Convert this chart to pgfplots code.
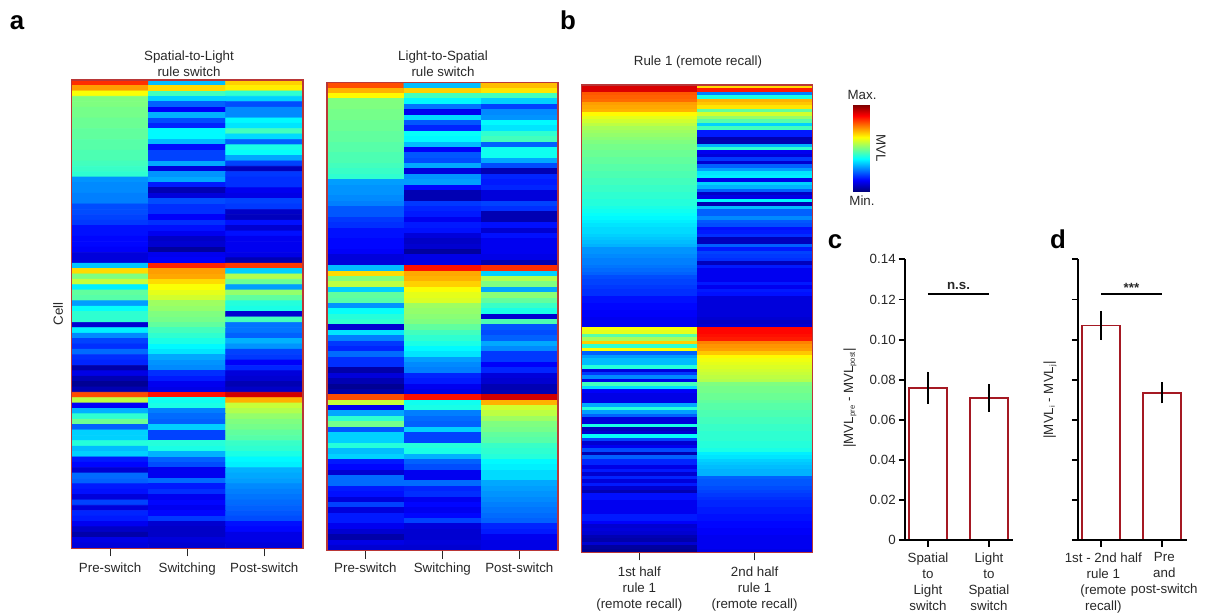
\documentclass[border=0pt]{standalone}
\usepackage{fontspec}
\setmainfont{Liberation Sans}
\usepackage{pgfplots}
\pgfplotsset{compat=1.18}
\definecolor{frame}{RGB}{185,55,55}
\definecolor{barred}{RGB}{165,25,35}
\definecolor{ink}{RGB}{40,40,40}
\newcommand{\lab}{\fontsize{8}{9.6}\selectfont\color{ink}}
\newcommand{\sub}[1]{\raisebox{-1.1pt}{\fontsize{4.6}{5}\selectfont #1}}
\pgfplotsset{
  hm/.style={scale only axis, anchor=south west, colormap/jet, point meta min=0, point meta max=1,
    xmin=-0.5, xmax=#1-0.5, xtick pos=bottom, ytick=\empty, tick align=outside,
    major tick length=4.8pt, xtick style={draw=ink,line width=0.6pt}, axis line style={draw=frame,line width=0.9pt},
    axis on top, xticklabel style={font=\lab,align=center,inner sep=0pt,yshift=-3.4pt}},
  bars/.style={scale only axis, anchor=south west, ymin=0, ymax=0.14, height=168.6pt,
    axis x line=bottom, axis y line=left, axis line style={-,line width=1.15pt,black}, tick align=outside,
    major tick length=3.9pt, tick style={black,line width=1.15pt}, xtick pos=bottom, ytick pos=left,
    ytick={0,0.02,0.04,0.06,0.08,0.10,0.12,0.14}, axis on top, clip=false,
    xticklabel style={font=\lab,align=center,inner sep=0pt,yshift=-3.2pt},
    yticklabel style={font=\lab,inner sep=1.5pt}},
  bar/.style={ybar, bar shift=0pt, bar width=22.4pt, draw=barred, fill=white, line width=1.1pt,
    error bars/.cd, y dir=both, y explicit, error mark=none, error bar style={black,line width=1.15pt}}
}
\begin{document}
\begin{tikzpicture}
\path[use as bounding box] (0,0) rectangle (723.6pt,-367.2pt);
% Panel a, left
\begin{axis}[hm=3, at={(42.9pt,-329pt)}, width=138.8pt, height=280.9pt, ymin=-86.5, ymax=0.5,
  xtick={0,1,2}, xticklabels={Pre-switch,Switching,Post-switch}]
\addplot[matrix plot*, mesh/ordering=y varies, mesh/rows=87, mesh/cols=3, point meta=explicit]
 table[row sep=\\, x expr={floor(\coordindex/87)}, y expr={-mod(\coordindex,87)}, meta=c] {c\\
.83\\.72\\.62\\.50\\.50\\.49\\.49\\.48\\.48\\.47\\.47\\.46\\.46\\.45\\.45\\.44\\.43\\.42\\.27\\.26\\.26\\.25\\.25\\.20\\.20\\.19\\.18\\.14\\.14\\.13\\.13\\.12\\.09\\.09\\
.32\\.66\\.50\\.57\\.36\\.47\\.46\\.28\\.38\\.42\\.42\\.08\\.36\\.26\\.19\\.17\\.23\\.17\\.16\\.04\\.10\\.05\\.02\\.05\\
.80\\.56\\.12\\.30\\.42\\.48\\.22\\.33\\.33\\.41\\.31\\.33\\.15\\.13\\.08\\.23\\.22\\.15\\.14\\.09\\.19\\.09\\.16\\.15\\.11\\.07\\.04\\.10\\.09\\
.31\\.66\\.44\\.33\\.22\\.12\\.30\\.20\\.16\\.37\\.37\\.31\\.14\\.19\\.19\\.29\\.09\\.27\\.29\\.15\\.05\\.09\\.20\\.17\\.17\\.12\\.17\\.14\\.11\\.07\\.08\\.03\\.11\\.12\\
.84\\.72\\.71\\.66\\.62\\.60\\.58\\.53\\.52\\.50\\.49\\.47\\.44\\.42\\.40\\.37\\.35\\.29\\.27\\.26\\.17\\.15\\.11\\.10\\
.86\\.39\\.40\\.25\\.23\\.22\\.33\\.19\\.19\\.41\\.40\\.30\\.22\\.20\\.11\\.11\\.23\\.15\\.17\\.11\\.13\\.11\\.13\\.18\\.08\\.07\\.07\\.09\\.08\\
.67\\.64\\.42\\.33\\.20\\.26\\.26\\.37\\.35\\.44\\.34\\.22\\.40\\.38\\.29\\.19\\.06\\.18\\.17\\.17\\.11\\.10\\.19\\.18\\.07\\.06\\.14\\.08\\.14\\.11\\.11\\.11\\.10\\.05\\
.82\\.33\\.55\\.48\\.28\\.52\\.47\\.41\\.40\\.08\\.44\\.24\\.24\\.22\\.30\\.27\\.19\\.18\\.12\\.16\\.09\\.08\\.05\\.07\\
.92\\.70\\.57\\.55\\.52\\.50\\.49\\.47\\.46\\.43\\.42\\.40\\.37\\.36\\.30\\.29\\.28\\.26\\.25\\.24\\.23\\.22\\.21\\.20\\.14\\.13\\.10\\.10\\.09\\
};
\end{axis}
% Panel a, right
\begin{axis}[hm=3, at={(196.1pt,-330.4pt)}, width=138.6pt, height=280.8pt, ymin=-86.5, ymax=0.5,
  xtick={0,1,2}, xticklabels={Pre-switch,Switching,Post-switch},
  xticklabel style={yshift=1.2pt}]
\addplot[matrix plot*, mesh/ordering=y varies, mesh/rows=87, mesh/cols=3, point meta=explicit]
 table[row sep=\\, x expr={floor(\coordindex/87)}, y expr={-mod(\coordindex,87)}, meta=c] {c\\
.80\\.70\\.63\\.50\\.50\\.49\\.49\\.48\\.48\\.47\\.47\\.46\\.46\\.45\\.45\\.44\\.43\\.42\\.28\\.27\\.27\\.26\\.25\\.21\\.21\\.18\\.17\\.14\\.14\\.13\\.13\\.12\\.09\\.09\\
.31\\.66\\.50\\.56\\.33\\.47\\.46\\.27\\.38\\.41\\.42\\.08\\.35\\.25\\.18\\.16\\.23\\.17\\.17\\.04\\.09\\.05\\.02\\.04\\
.80\\.57\\.11\\.29\\.42\\.49\\.21\\.33\\.33\\.41\\.31\\.33\\.15\\.13\\.08\\.23\\.23\\.15\\.14\\.09\\.19\\.09\\.15\\.15\\.11\\.08\\.04\\.10\\.08\\
.31\\.67\\.44\\.37\\.24\\.11\\.34\\.21\\.16\\.38\\.37\\.31\\.12\\.21\\.20\\.29\\.09\\.27\\.28\\.13\\.05\\.05\\.18\\.16\\.15\\.11\\.15\\.14\\.09\\.07\\.08\\.03\\.10\\.10\\
.86\\.71\\.70\\.67\\.62\\.60\\.59\\.53\\.52\\.51\\.50\\.47\\.44\\.42\\.40\\.37\\.35\\.28\\.26\\.25\\.16\\.15\\.11\\.10\\
.86\\.39\\.40\\.25\\.23\\.22\\.33\\.19\\.19\\.41\\.40\\.30\\.22\\.20\\.11\\.11\\.23\\.16\\.17\\.11\\.13\\.11\\.13\\.19\\.09\\.08\\.08\\.09\\.08\\
.69\\.65\\.44\\.33\\.19\\.26\\.27\\.37\\.35\\.42\\.44\\.22\\.39\\.39\\.29\\.20\\.05\\.16\\.15\\.16\\.09\\.09\\.19\\.17\\.05\\.05\\.14\\.08\\.14\\.11\\.11\\.11\\.10\\.05\\
.83\\.33\\.55\\.50\\.29\\.51\\.47\\.43\\.40\\.08\\.45\\.21\\.20\\.22\\.29\\.26\\.18\\.18\\.12\\.16\\.09\\.08\\.05\\.05\\
.92\\.70\\.58\\.56\\.53\\.50\\.49\\.47\\.46\\.43\\.42\\.41\\.37\\.36\\.34\\.34\\.29\\.28\\.27\\.26\\.25\\.24\\.23\\.22\\.16\\.15\\.11\\.10\\.10\\
};
\end{axis}
% Panel b
\begin{axis}[hm=2, at={(349pt,-331.4pt)}, width=138.4pt, height=280.4pt, ymin=-134.5, ymax=0.5,
  xtick={0,1}, xticklabels={{1st half\\rule 1\\(remote recall)},{2nd half\\rule 1\\(remote recall)}}]
\addplot[matrix plot*, mesh/ordering=y varies, mesh/rows=135, mesh/cols=2, point meta=explicit]
 table[row sep=\\, x expr={floor(\coordindex/135)}, y expr={-mod(\coordindex,135)}, meta=c] {c\\
.91\\.91\\.79\\.78\\.77\\.72\\.71\\.70\\
.63\\.60\\.58\\.56\\.54\\.53\\.52\\.51\\.50\\.49\\.49\\.48\\.48\\.47\\.47\\.46\\.46\\.45\\.45\\.44\\.44\\.43\\.43\\.42\\.42\\.41\\.41\\.40\\.39\\.38\\.37\\.36\\.35\\.34\\.34\\.33\\.32\\.31\\.30\\.27\\.27\\.26\\.25\\.25\\.24\\.23\\.22\\.20\\.19\\.19\\.18\\.17\\.17\\.14\\.14\\.13\\.13\\.12\\.12\\.11\\.11\\.11\\
.62\\.60\\.46\\.54\\.67\\.42\\.62\\.22\\.28\\.31\\.31\\.41\\.09\\.18\\.26\\.10\\.44\\.34\\.12\\.10\\.10\\.10\\.29\\.41\\.28\\.22\\.09\\.09\\.40\\.06\\.08\\.38\\.19\\.08\\.11\\.20\\.05\\.22\\.16\\.16\\.10\\.15\\.08\\.16\\.09\\.15\\.08\\.05\\.14\\.14\\.11\\.11\\.11\\.11\\.15\\.15\\.12\\.08\\.09\\.08\\.05\\.04\\.08\\.03\\.02\\
.66\\.85\\.25\\.40\\.70\\.68\\.65\\.47\\.58\\.52\\.46\\.33\\.44\\.15\\.15\\.05\\.05\\.30\\.42\\.11\\.09\\.18\\.08\\.22\\.28\\.35\\.36\\.10\\.33\\.30\\.22\\.07\\.10\\.37\\.05\\.31\\.22\\.22\\.26\\.21\\.20\\.14\\.15\\.17\\.06\\.06\\.22\\.15\\.19\\.18\\.17\\.06\\.15\\.11\\.11\\.11\\.11\\.15\\.11\\.15\\.14\\.09\\.09\\.09\\.09\\.09\\.09\\.08\\.07\\.08\\
.87\\.87\\.86\\.85\\.75\\.73\\.72\\.68\\.63\\.61\\.60\\.59\\.58\\.57\\.56\\.55\\.50\\.49\\.49\\.48\\.48\\.47\\.46\\.46\\.45\\.45\\.44\\.44\\.43\\.43\\.42\\.42\\.42\\.41\\.41\\.40\\.36\\.35\\.33\\.32\\.31\\.30\\.30\\.22\\.21\\.21\\.20\\.19\\.18\\.17\\.16\\.16\\.15\\.15\\.14\\.14\\.13\\.13\\.12\\.12\\.11\\.11\\.11\\.11\\.10\\
};
\end{axis}
% Colour scale
\begin{axis}[scale only axis, anchor=south west, at={(511.8pt,-114.6pt)}, width=10pt, height=51.6pt,
  hide axis, colormap/jet, xmin=0, xmax=1, ymin=0, ymax=1, point meta min=0, point meta max=1]
\addplot[surf, shader=interp, mesh/rows=2, mesh/cols=2, point meta=y] coordinates {(0,0) (1,0) (0,1) (1,1)};
\end{axis}
% Panel c
\begin{axis}[bars, at={(543pt,-324.2pt)}, width=64.6pt, xmin=905, xmax=1012.7,
  xtick={928,989}, xticklabels={{Spatial\\to\\Light\\switch},{Light\\to\\Spatial\\switch}},
  yticklabels={0,0.02,0.04,0.06,0.08,0.10,0.12,0.14}]
\addplot[bar] coordinates {(928,0.076) +- (0,0.008) (989,0.071) +- (0,0.007)};
\addplot[black,line width=1.15pt] coordinates {(928,0.1227) (989,0.1227)};
\node[font=\fontsize{8}{9.6}\selectfont\bfseries\color{ink},anchor=south,inner sep=2.4pt] at (axis cs:958.5,0.1227) {n.s.};
\end{axis}
% Panel d
\begin{axis}[bars, at={(647pt,-324.2pt)}, width=65pt, xmin=1078.3, xmax=1186.7,
  xtick={1101,1162}, xticklabels={{1st - 2nd half\\rule 1\\(remote\\recall)},{Pre\\and\\post-switch}},
  xticklabel style={xshift=1.4pt}, yticklabels={}]
\addplot[bar] coordinates {(1101,0.107) +- (0,0.0073) (1162,0.0735) +- (0,0.0053)};
\addplot[black,line width=1.15pt] coordinates {(1101,0.1227) (1162,0.1227)};
\node[font=\fontsize{8}{9.6}\selectfont\bfseries\color{ink},anchor=south,inner sep=0.6pt] at (axis cs:1131.5,0.1227) {***};
\end{axis}
% Text
\begin{scope}[x=0.6pt,y=-0.6pt]
\tikzset{every node/.append style={font=\lab,align=center,inner sep=0pt}}
\node[font=\fontsize{15.5}{15}\selectfont\bfseries,anchor=base] at (17,29) {a};
\node[font=\fontsize{15.5}{15}\selectfont\bfseries,anchor=base] at (568,29) {b};
\node[font=\fontsize{15.5}{15}\selectfont\bfseries,anchor=base] at (835,248) {c};
\node[font=\fontsize{15.5}{15}\selectfont\bfseries,anchor=base] at (1058,248) {d};
\node at (189,64) {Spatial-to-Light\\rule switch};
\node at (443,64) {Light-to-Spatial\\rule switch};
\node at (698,62) {Rule 1 (remote recall)};
\node[rotate=90] at (58,314) {Cell};
\node at (862,95) {Max.};
\node at (862,201) {Min.};
\node[rotate=-90] at (881,148) {MVL};
\node[rotate=90] at (850,398) {|MVL\sub{pre} - MVL\sub{post}|};
\node[rotate=90] at (1050,400) {|MVL\sub{i} - MVL\sub{j}|};
\end{scope}
\end{tikzpicture}
\end{document}
